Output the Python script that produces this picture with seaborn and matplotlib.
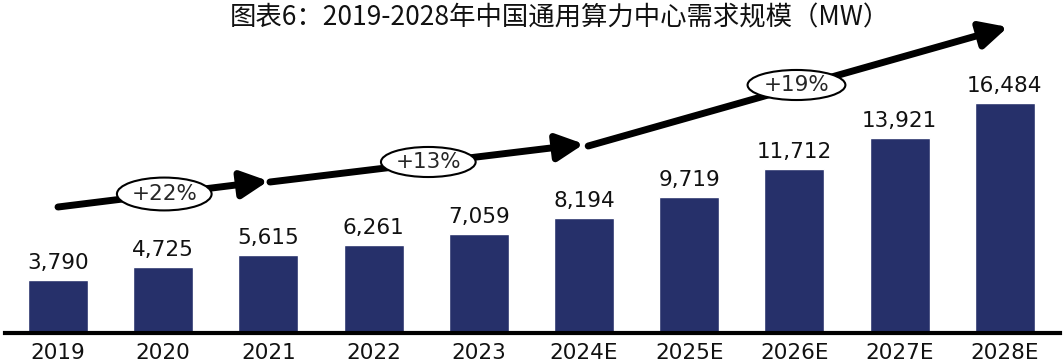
import matplotlib
matplotlib.use("Agg")
import matplotlib.pyplot as plt
import seaborn as sns
import pandas as pd
from matplotlib.patches import Ellipse

years = ["2019", "2020", "2021", "2022", "2023", "2024E", "2025E", "2026E", "2027E", "2028E"]
demand_mw = [3790, 4725, 5615, 6261, 7059, 8194, 9719, 11712, 13921, 16484]
growth_labels = ["+22%", "+13%", "+19%"]

title = "图表6：2019-2028年中国通用算力中心需求规模（MW）"
bar_color = "#26306A"

sns.set_theme(style="white")
plt.rcParams['font.family'] = ['DejaVu Sans', 'Noto Sans CJK SC']

df = pd.DataFrame({"year": years, "mw": demand_mw})

fig = plt.figure(figsize=(10.63, 3.63), dpi=100)
ax = fig.add_axes([5 / 1063, 30 / 363, 1055 / 1063, 333 / 363])

sns.barplot(data=df, x="year", y="mw", color=bar_color, width=0.57,
            saturation=1, ax=ax)

for i, v in enumerate(demand_mw):
    ax.text(i, v + 500, f"{v:,}", ha="center", va="bottom", fontsize=15.5, color="#111111")

ax.set_xlim(-0.504, 9.525)
ax.set_ylim(0, 23820)
ax.set_xlabel("")
ax.set_ylabel("")
ax.set_yticks([])
ax.tick_params(axis="x", length=0, pad=7, labelsize=15.5, labelcolor="#111111")
for s in ["left", "right", "top"]:
    ax.spines[s].set_visible(False)
ax.spines["bottom"].set_linewidth(3)
ax.spines["bottom"].set_color("black")

# growth trend arrows (start x, start y, end x, end y) in data units
segments = [(0.0, 9013, 2.0, 10873), (2.015, 10801, 5.0, 13519), (5.04, 13376, 9.03, 21888)]
ellipses = [(1.01, 9943, 0.90, 2350), (3.52, 12232, 0.90, 2150), (7.02, 17740, 0.93, 2150)]

for (x0, y0, x1, y1) in segments:
    ax.annotate("", xy=(x1, y1), xytext=(x0, y0),
                arrowprops=dict(arrowstyle="-|>,head_length=0.9,head_width=0.45",
                                lw=5, color="black", mutation_scale=18,
                                shrinkA=0, shrinkB=0))

for (cx, cy, w, h), lab in zip(ellipses, growth_labels):
    ax.add_patch(Ellipse((cx, cy), w, h, facecolor="white", edgecolor="black",
                         lw=1.5, zorder=5))
    ax.text(cx, cy, lab, ha="center", va="center", fontsize=15.5, zorder=6)

fig.text(0.527, 0.95, title, ha="center", va="center", fontsize=19,
         family=["Noto Sans CJK SC", "DejaVu Sans"], weight="medium", color="#111111")

fig.savefig("out.png", dpi=100)
